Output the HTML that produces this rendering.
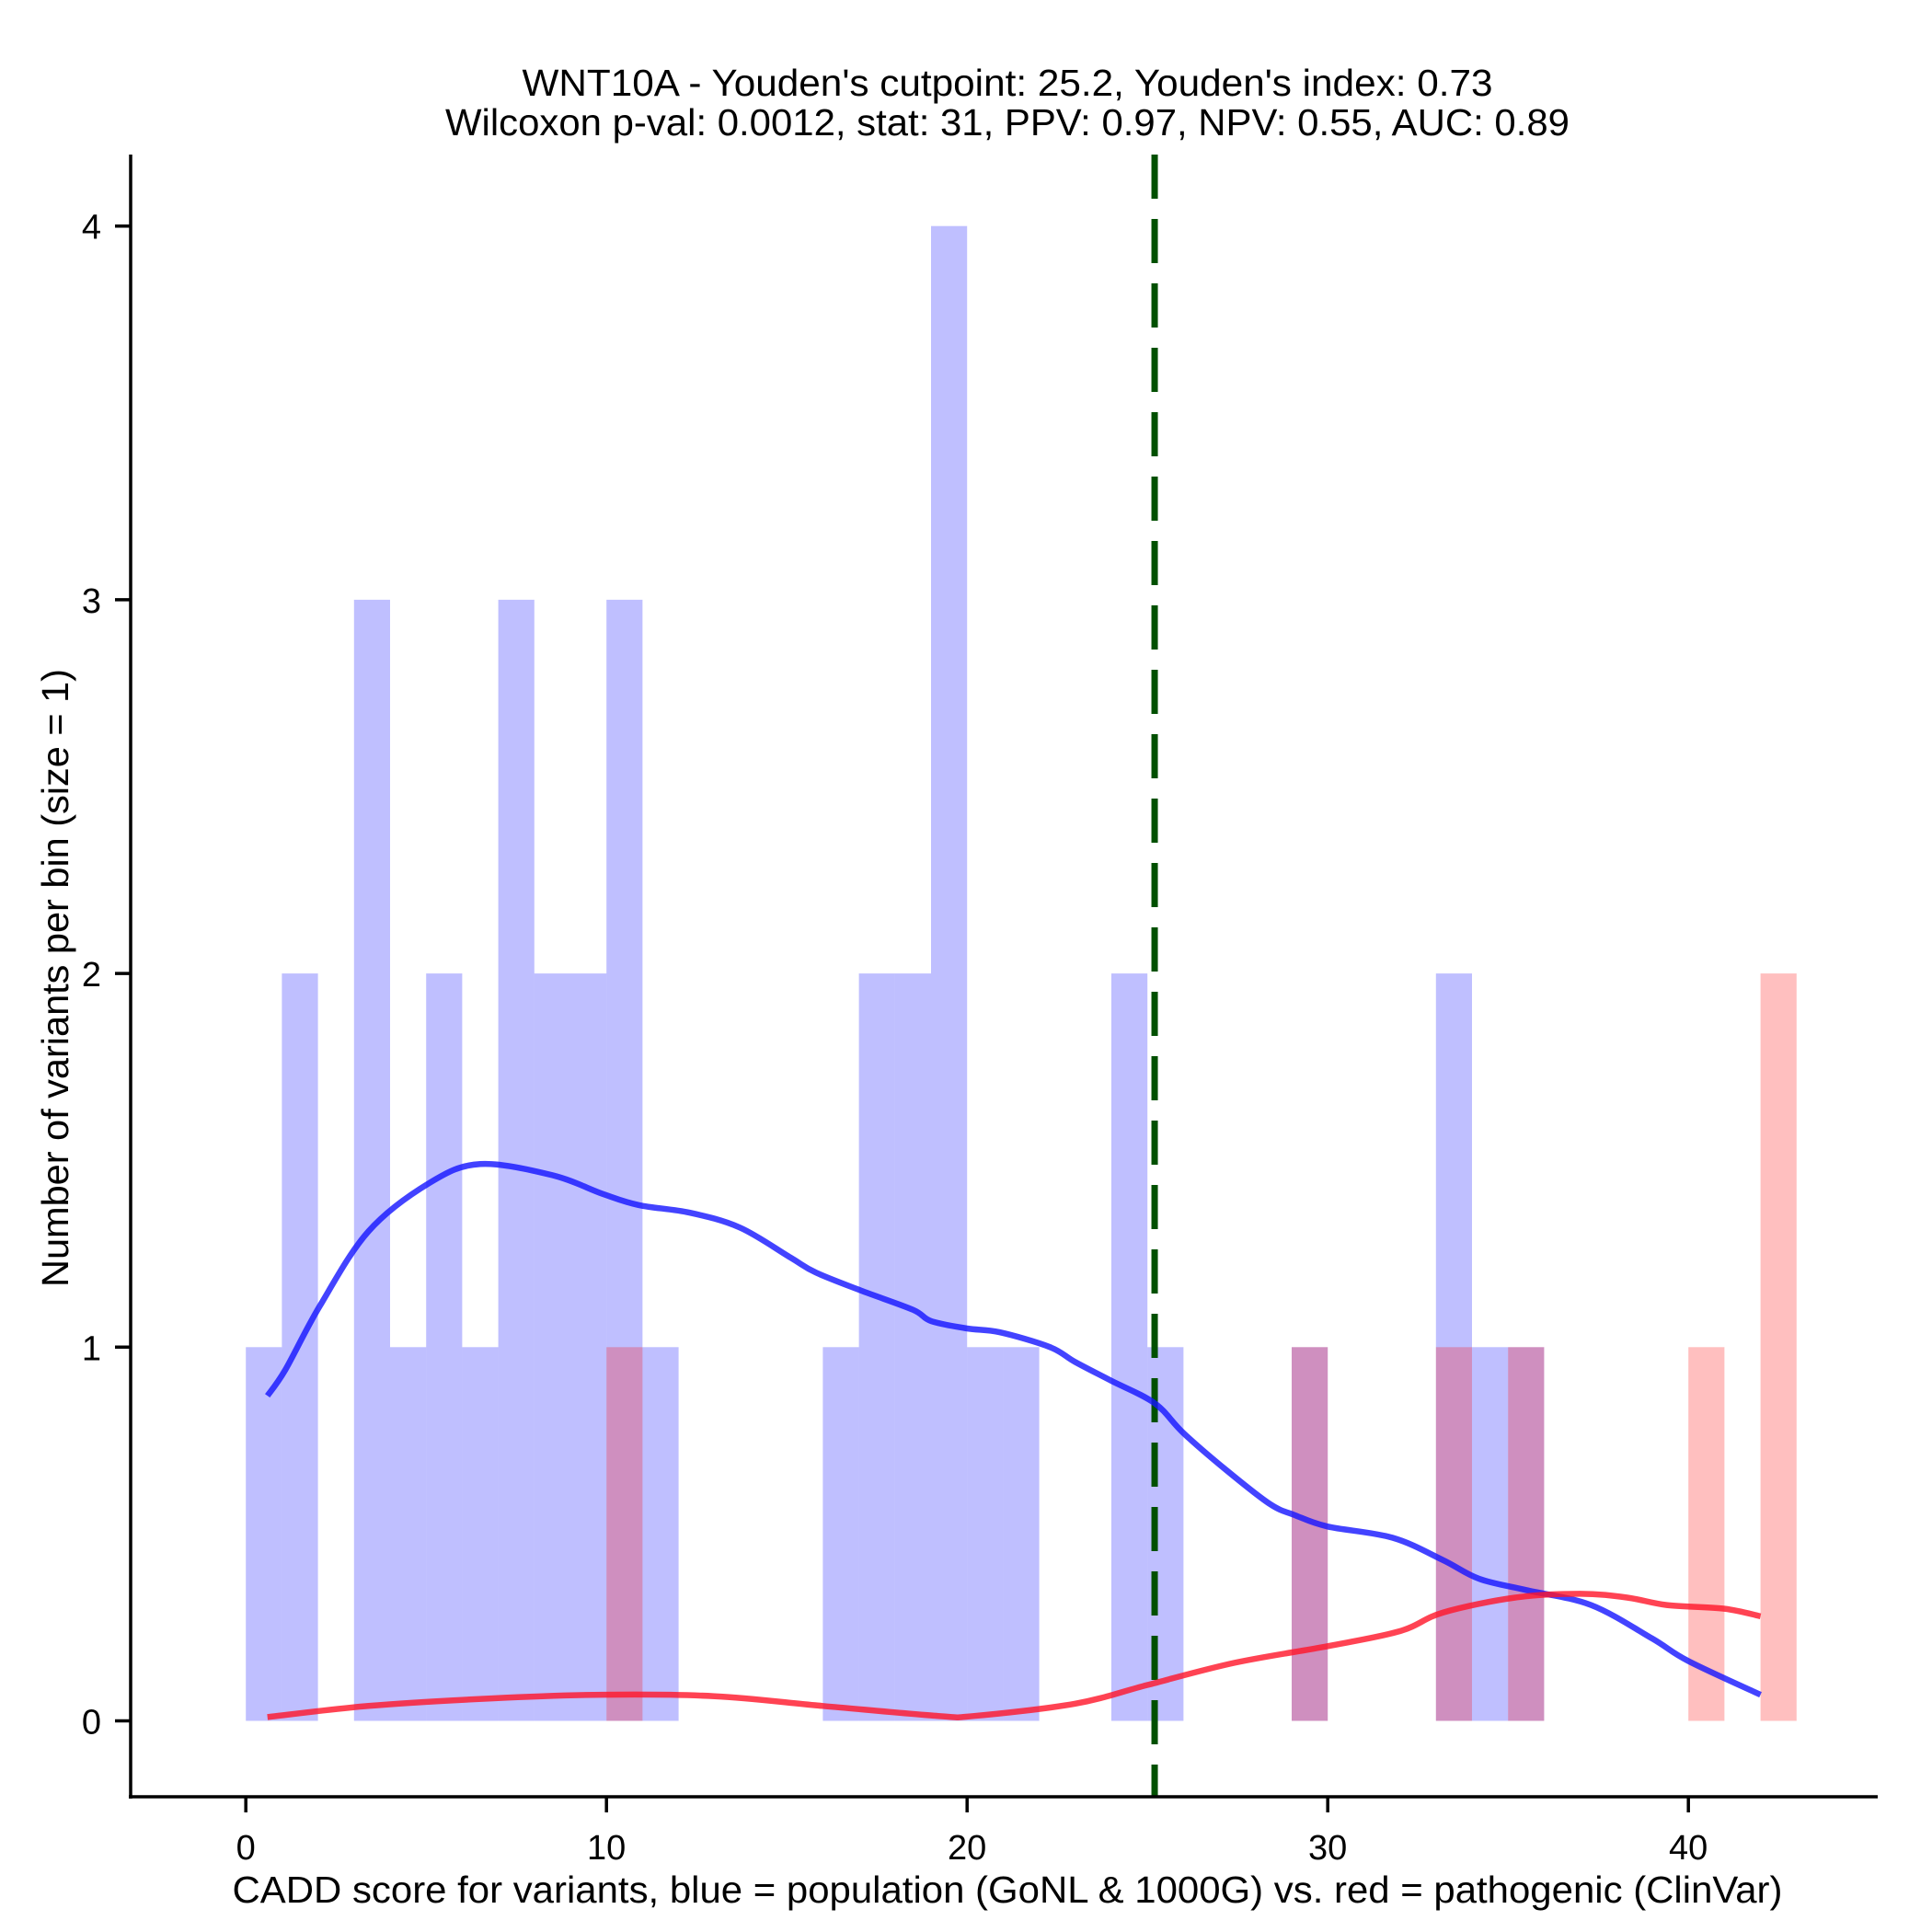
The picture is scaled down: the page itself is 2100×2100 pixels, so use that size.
<!DOCTYPE html>
<html><head><meta charset="utf-8"><style>
html,body{margin:0;padding:0;background:#fff;}
svg{display:block;font-family:"Liberation Sans",Arial,sans-serif;}
</style></head><body>
<svg id="chart" width="2100" height="2100" viewBox="0 0 2100 2100" xmlns="http://www.w3.org/2000/svg">
<rect x="0" y="0" width="2100" height="2100" fill="#fff"/>
<text x="1095" y="104" font-size="41" text-anchor="middle" textLength="1055" lengthAdjust="spacingAndGlyphs">WNT10A - Youden's cutpoint: 25.2, Youden's index: 0.73</text>
<text x="1095" y="147" font-size="41" text-anchor="middle" textLength="1222" lengthAdjust="spacingAndGlyphs">Wilcoxon p-val: 0.0012, stat: 31, PPV: 0.97, NPV: 0.55, AUC: 0.89</text>
<g id="bars"></g>
<g id="curves"></g>
<g id="axes"></g>
<text x="1095" y="2068" font-size="41" text-anchor="middle" textLength="1685" lengthAdjust="spacingAndGlyphs">CADD score for variants, blue = population (GoNL &amp; 1000G) vs. red = pathogenic (ClinVar)</text>
<text transform="translate(74,1063) rotate(-90)" font-size="41" text-anchor="middle" textLength="672" lengthAdjust="spacingAndGlyphs">Number of variants per bin (size = 1)</text>
</svg>
<script>
const blueBinStarts = [0,1,3,4,5,6,7,8,9,10,11,16,17,18,19,20,21,24,25,29,33,34,35];
const blueCounts    = [1,2,3,1,2,1,3,2,2,3,1,1,2,2,4,1,1,2,1,1,2,1,1];
const redBinStarts  = [10,29,33,35,40,42];
const redCounts     = [1,1,1,1,1,2];
const blueDensX = [0.6,1.1,2.05,3.4,5.1,6.5,8.5,9.9,10.9,12.3,13.7,15.1,15.8,17.1,18.5,19,20,20.9,22.3,23,24,25.2,26,27.2,28.4,29.1,30,31.8,33.2,34.2,35.5,37.3,39,40,42];
const blueDensY = [0.87,0.94,1.11,1.31,1.44,1.49,1.46,1.41,1.38,1.36,1.32,1.24,1.20,1.15,1.10,1.07,1.05,1.04,1.0,0.96,0.91,0.85,0.77,0.67,0.58,0.55,0.52,0.49,0.43,0.38,0.35,0.31,0.22,0.16,0.07];
const redDensX = [0.6,3.4,6.8,9.9,13,16,19.2,20.2,23,25,27.4,30,32,33.2,35.2,37,38.3,39.4,41,42];
const redDensY = [0.01,0.04,0.06,0.07,0.066,0.04,0.013,0.013,0.046,0.096,0.155,0.20,0.24,0.29,0.33,0.34,0.33,0.31,0.30,0.28];
const xTicks = [0,10,20,30,40];
const yTicks = [0,1,2,3,4];
const cutpoint = 25.2;

const NS='http://www.w3.org/2000/svg';
const X = v => 267.2 + v*39.2;
const Y = v => 1870.5 - v*406.2;
function mk(tag, attrs, parent){const e=document.createElementNS(NS,tag);for(const k in attrs)e.setAttribute(k,attrs[k]);parent.appendChild(e);return e;}
const bars=document.getElementById('bars'), curves=document.getElementById('curves'), axes=document.getElementById('axes');
blueBinStarts.forEach((s,i)=>{
  const r=mk('rect',{x:X(s),y:Y(blueCounts[i]),width:X(s+1)-X(s),height:Y(0)-Y(blueCounts[i]),fill:'rgba(0,0,255,0.25)'},bars);
  
  
});
redBinStarts.forEach((s,i)=>{
  const r=mk('rect',{x:X(s),y:Y(redCounts[i]),width:X(s+1)-X(s),height:Y(0)-Y(redCounts[i]),fill:'rgba(255,0,0,0.25)'},bars);
  
  
});
function smooth(xs,ys){
  const p=xs.map((x,i)=>[X(x),Y(ys[i])]);
  let d='M'+p[0][0].toFixed(1)+','+p[0][1].toFixed(1);
  for(let i=0;i<p.length-1;i++){
    const p0=p[i-1]||p[i],p1=p[i],p2=p[i+1],p3=p[i+2]||p[i+1];
    const c1=[p1[0]+(p2[0]-p0[0])/6,p1[1]+(p2[1]-p0[1])/6];
    const c2=[p2[0]-(p3[0]-p1[0])/6,p2[1]-(p3[1]-p1[1])/6];
    d+=' C'+c1.map(v=>v.toFixed(1)).join(',')+' '+c2.map(v=>v.toFixed(1)).join(',')+' '+p2.map(v=>v.toFixed(1)).join(',');
  }
  return d;
}
const cut=mk('line',{x1:X(cutpoint),x2:X(cutpoint),y1:168,y2:1952,stroke:'#005000','stroke-width':7,'stroke-dasharray':'48,22'},curves);


const bp=mk('path',{d:smooth(blueDensX,blueDensY),fill:'none',stroke:'rgba(20,20,255,0.8)','stroke-width':6.5,'stroke-linejoin':'round'},curves);


const rp=mk('path',{d:smooth(redDensX,redDensY),fill:'none',stroke:'rgba(255,20,40,0.8)','stroke-width':6.5,'stroke-linejoin':'round'},curves);


const ya=mk('line',{x1:142,x2:142,y1:168,y2:1955,stroke:'#000','stroke-width':3.5},axes);


const xa=mk('line',{x1:140,x2:2041,y1:1953,y2:1953,stroke:'#000','stroke-width':3.5},axes);


xTicks.forEach(t=>{
  const l=mk('line',{x1:X(t),x2:X(t),y1:1953,y2:1970,stroke:'#000','stroke-width':3.5},axes);
  
  
  const tx=mk('text',{x:X(t),y:2021,'font-size':38,'text-anchor':'middle'},axes);
  tx.textContent=t;
  
  
});
yTicks.forEach(t=>{
  const l=mk('line',{x1:125,x2:142,y1:Y(t),y2:Y(t),stroke:'#000','stroke-width':3.5},axes);
  
  
  const tx=mk('text',{x:110,y:Y(t)+14,'font-size':38,'text-anchor':'end'},axes);
  tx.textContent=t;
  
  
});
</script>
</body></html>
